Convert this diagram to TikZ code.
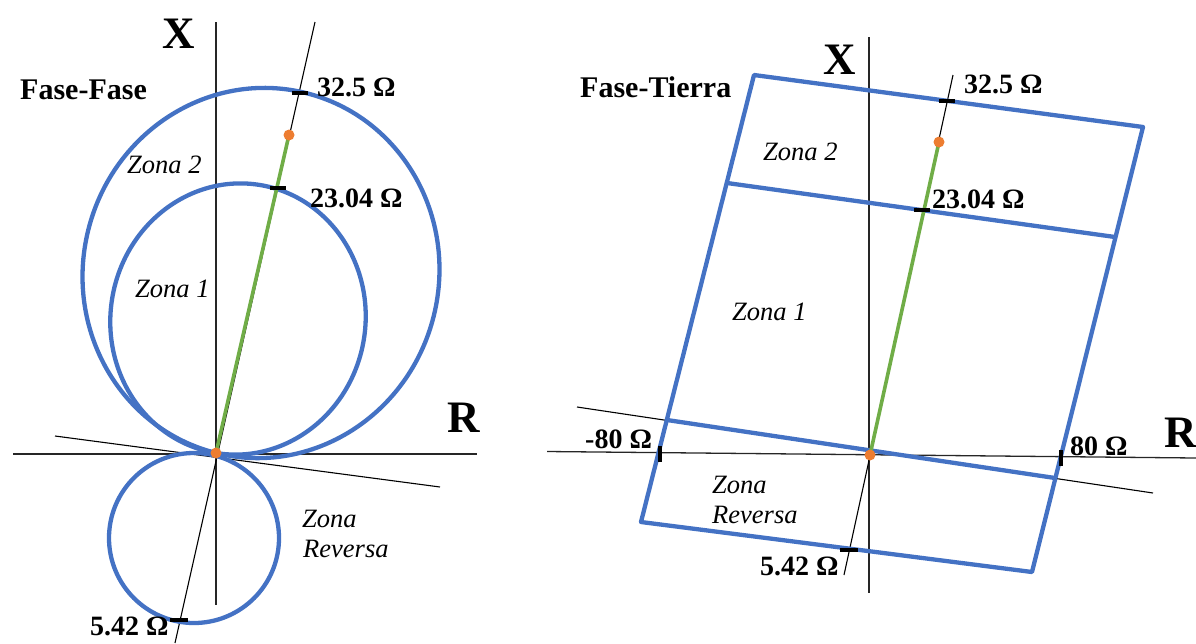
\documentclass[tikz,border=0pt]{standalone}
\usepackage{fontspec}
\setmainfont{LiberationSerif}[Extension=.ttf,UprightFont=*-Regular,BoldFont=*-Bold,ItalicFont=*-Italic,BoldItalicFont=*-BoldItalic]
\usetikzlibrary{calc}
\definecolor{zonablue}{RGB}{68,114,196}
\definecolor{alcgreen}{RGB}{112,173,71}
\definecolor{puntoorange}{RGB}{237,125,49}
\tikzset{
  zona/.style={draw=zonablue,line width=4.3pt,line join=round},
  eje/.style={draw=black!85,line width=1.3pt},
  recta/.style={draw=black,line width=1.1pt},
  alcance/.style={draw=alcgreen,line width=3.6pt},
  marca/.style={draw=black,line width=4.6pt},
  punto/.style={fill=puntoorange},
  valor/.style={font=\fontsize{28}{30}\selectfont\bfseries,inner sep=0pt,anchor=base west},
  titulo/.style={font=\fontsize{30}{32}\selectfont\bfseries,inner sep=0pt,anchor=base west},
  ejelbl/.style={font=\fontsize{45}{48}\selectfont\bfseries,inner sep=0pt,anchor=base west},
  zonalbl/.style={font=\fontsize{26.5}{29}\selectfont\itshape,inner sep=0pt,anchor=base west}
}
\begin{document}
\begin{tikzpicture}[x=1pt,y=-1pt,line cap=butt] % mho (left) and quadrilateral (right)
  \useasboundingbox (0,0) rectangle (1196,643);
  % ---- Fase-Fase
  \coordinate (O1) at (216,453);
  \coordinate (xt1) at (216,22);   \coordinate (xb1) at (216,605);
  \coordinate (rl1) at (13,454);   \coordinate (rr1) at (477,454);
  \coordinate (ca1) at (315,22);   \coordinate (cb1) at (175,643);
  \coordinate (ta1) at (55,436);   \coordinate (tb1) at (440,487);
  \coordinate (P1) at (289,135);
  \coordinate (k32a) at (300,93);  \coordinate (k23a) at (278,188);
  \coordinate (k5a) at (179,620);
  \draw[eje] (xt1) -- (xb1);
  \draw[eje] (rl1) -- (rr1);
  \draw[recta] (ta1) -- (tb1);
  \draw[recta] (cb1) -- (ca1);
  \draw[zona,rotate around={-14:(261,273)}] (261,273) ellipse [x radius=178pt,y radius=185.5pt];
  \draw[zona,rotate around={-9.3:(238,319)}] (238,319) ellipse [x radius=127.5pt,y radius=135.8pt];
  \draw[zona] (194,538) circle (85pt);
  \draw[alcance] (O1) -- (P1);
  \draw[marca] ($(k32a)+(-8,0)$) -- ($(k32a)+(8,0)$);
  \draw[marca] ($(k23a)+(-8,0)$) -- ($(k23a)+(8,0)$);
  \draw[marca] ($(k5a)+(-9,0)$) -- ($(k5a)+(9,0)$);
  \fill[punto] (O1) circle (5.5pt);
  \fill[punto] (P1) circle (5.5pt);
  \node[ejelbl] (X1) at (162,48) {X};
  \node[ejelbl] (R1) at (447,432) {R};
  \node[titulo] (ff) at (20,99) {Fase-Fase};
  \node[valor] (v32a) at (317,96) {32.5 Ω};
  \node[valor] (v23a) at (310,207) {23.04 Ω};
  \node[valor] (v5a) at (90,635) {5.42 Ω};
  \node[zonalbl] (z2a) at (127,173) {Zona 2};
  \node[zonalbl] (z1a) at (135,297) {Zona 1};
  \node[zonalbl] (zra) at (302,527) {Zona};
  \node[zonalbl] (zrb) at (303,557) {Reversa};
  % ---- Fase-Tierra
  \coordinate (O2) at (870,455);
  \coordinate (xt2) at (869,37);   \coordinate (xb2) at (869,593);
  \coordinate (rl2) at (547,451.5); \coordinate (rr2) at (1196,458);
  \coordinate (ca2) at (953,75);   \coordinate (cb2) at (844,575);
  \coordinate (ta2) at (577,407);  \coordinate (tb2) at (1153,493);
  \coordinate (P2) at (939,142);
  \coordinate (TL) at (754,75);    \coordinate (TR) at (1143,127);
  \coordinate (BR) at (1032,572);  \coordinate (BL) at (641,522);
  \coordinate (ML) at (727,183);   \coordinate (MR) at (1115,237);
  \coordinate (RL) at (667,420);   \coordinate (RR) at (1055,478);
  \coordinate (k32b) at (947,101); \coordinate (k23b) at (922,210);
  \coordinate (k5b) at (849,550);
  \coordinate (km80) at (660,454); \coordinate (k80) at (1061,458);
  \draw[eje] (xt2) -- (xb2);
  \draw[eje] (rl2) -- (rr2);
  \draw[recta] (ta2) -- (tb2);
  \draw[recta] (cb2) -- (ca2);
  \draw[zona] (TL) -- (TR) -- (BR) -- (BL) -- cycle;
  \draw[zona] (ML) -- (MR);
  \draw[zona] (RL) -- (RR);
  \draw[alcance] (O2) -- (P2);
  \draw[marca] ($(k32b)+(-8,0)$) -- ($(k32b)+(8,0)$);
  \draw[marca] ($(k23b)+(-8,0)$) -- ($(k23b)+(8,0)$);
  \draw[marca] ($(k5b)+(-9,0)$) -- ($(k5b)+(9,0)$);
  \draw[marca] ($(km80)+(0,-8)$) -- ($(km80)+(0,8)$);
  \draw[marca] ($(k80)+(0,-8)$) -- ($(k80)+(0,8)$);
  \fill[punto] (O2) circle (5.5pt);
  \fill[punto] (P2) circle (5.5pt);
  \node[ejelbl] (X2) at (823,74) {X};
  \node[ejelbl] (R2) at (1164,447) {R};
  \node[titulo] (ft) at (580,97) {Fase-Tierra};
  \node[valor] (v32b) at (964,93) {32.5 Ω};
  \node[valor] (v23b) at (932,208) {23.04 Ω};
  \node[valor] (vm80) at (585,448) {-80 Ω};
  \node[valor] (v80) at (1070,455) {80 Ω};
  \node[valor] (v5b) at (760,575) {5.42 Ω};
  \node[zonalbl] (z2b) at (763,160) {Zona 2};
  \node[zonalbl] (z1b) at (732,320) {Zona 1};
  \node[zonalbl] (zrc) at (712,493) {Zona};
  \node[zonalbl] (zrd) at (712,523) {Reversa};
\end{tikzpicture}
\end{document}
